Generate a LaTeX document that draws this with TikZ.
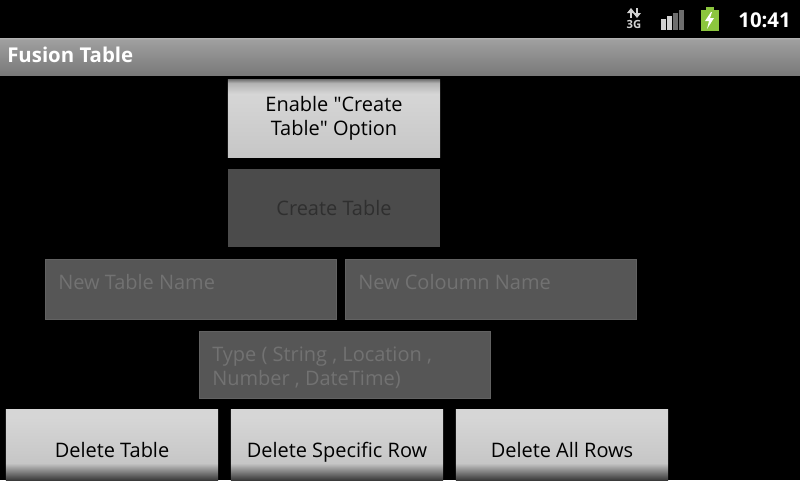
\documentclass[tikz,border=0pt]{standalone}
\usepackage{fontspec}
\setmainfont{Open Sans}
\usepackage{xcolor}
\usetikzlibrary{positioning}

\definecolor{btnface}{HTML}{D6D6D6}
\definecolor{btnlow}{HTML}{C6C6C6}
\definecolor{btnshade}{HTML}{7E7E7E}
\definecolor{btndark}{HTML}{3A3A3A}
\definecolor{offface}{HTML}{4B4B4B}
\definecolor{offtext}{HTML}{2F2F2F}
\definecolor{fieldface}{HTML}{565656}
\definecolor{fieldline}{HTML}{626262}
\definecolor{hinttext}{HTML}{727272}
\definecolor{barlight}{HTML}{D2D2D2}
\definecolor{bardark}{HTML}{6E6E6E}
\definecolor{batgreen}{HTML}{8CC63E}

% button faces (path is fitted to 25bp..75bp)
\pgfdeclareverticalshading{enableface}{100bp}{color(0bp)=(btnlow); color(25bp)=(btnlow);
  color(66bp)=(btnface); color(73bp)=(btnface!60!btnshade); color(75bp)=(btnshade);
  color(100bp)=(btnshade)}
\pgfdeclareverticalshading{deleteface}{100bp}{color(0bp)=(btndark); color(25bp)=(btndark);
  color(37bp)=(btnlow); color(70bp)=(btnface); color(100bp)=(btnface)}
\pgfdeclareverticalshading{titleface}{100bp}{color(0bp)=(gray!95!black); color(25bp)=(gray!95!black);
  color(73bp)=(gray!75); color(75bp)=(gray!60); color(100bp)=(gray!60)}

\tikzset{
  btnbase/.style={minimum width=5.3cm, inner sep=0pt},
  btn/.style={btnbase, shading=enableface, align=center,
    font=\fontsize{14.2}{17}\selectfont},
  delbtn/.style={btnbase, shading=deleteface, minimum height=1.75cm},
  offbtn/.style={btnbase, fill=offface, text=offtext,
    font=\fontsize{14.2}{17}\selectfont},
  btntext/.style={inner sep=0pt, anchor=base, font=\fontsize{14.2}{17}\selectfont},
  field/.style={fill=fieldface, draw=fieldline, line width=0.4pt,
    minimum width=7.275cm, minimum height=1.5cm, inner sep=0pt},
  hint/.style={text=hinttext, align=left, inner sep=0pt,
    font=\fontsize{14.2}{17}\selectfont},
  bar/.style={font=\bfseries\fontsize{14.5}{16}\selectfont, text=white, inner sep=0pt},
}

\begin{document}
\begin{tikzpicture}[x=0.025cm, y=-0.025cm]

\useasboundingbox (0,0) rectangle (800,480);
\fill[black] (0,0) rectangle (800,480);

% Status bar
\node[bar, anchor=east] (clock) at (791,20) {10:41};
\node[text=barlight, font=\bfseries\fontsize{8}{8}\selectfont,
  inner sep=0pt] (net) at (634,24.5) {3G};
\fill[barlight] (627,13) -- (631,8) -- (635,13) -- cycle;
\fill[barlight] (630,12) rectangle (632,18);
\fill[barlight] (633,13) -- (637,18) -- (641,13) -- cycle;
\fill[barlight] (636,8) rectangle (638,14);
\foreach \i/\h/\c in {0/11/barlight,1/14/barlight,2/17/bardark,3/20/bardark}
  \fill[\c] (661+6*\i,30) rectangle ++(5,-\h);
\fill[batgreen] (701,10) rectangle (719,31);
\fill[batgreen] (706,7) rectangle (714,10);
\fill[white] (711,12) -- (705,21) -- (709,21) -- (707,29) -- (714,18) -- (710,18) -- (712,12) -- cycle;

% Title bar
\shade[shading=titleface] (0,38) rectangle (800,75);
\node[bar, anchor=west] (title) at (7,55) {Fusion Table};

% Buttons
\node[btn, minimum height=1.925cm] (enable) at (334,118.5)
  {Enable \textquotedbl Create\\Table\textquotedbl{} Option};
\node[offbtn, minimum height=1.95cm] (create) at (334,208) {};
\node[btntext, text=offtext] (createtxt) at (334,215) {Create Table};

% Text fields
\node[field] (tname) at (190.5,289) {};
\node[field] (cname) at (490.5,289) {};
\node[field, minimum height=1.675cm] (ctype) at (344.5,364.5) {};
\node[hint, anchor=west] (tnamehint) at (58,282) {New Table Name};
\node[hint, anchor=west] (cnamehint) at (358,282) {New Coloumn Name};
\node[hint, anchor=north west] (ctypehint) at (212,347)
  {Type ( String , Location ,\\Number , DateTime)};

% Bottom buttons
\node[delbtn] (deltable) at (112,445) {};
\node[delbtn] (delrow) at (337,445) {};
\node[delbtn] (delall) at (562,445) {};
\node[btntext] (deltabletxt) at (112,457) {Delete Table};
\node[btntext] (delrowtxt) at (337,457) {Delete Specific Row};
\node[btntext] (delalltxt) at (562,457) {Delete All Rows};

\end{tikzpicture}
\end{document}
